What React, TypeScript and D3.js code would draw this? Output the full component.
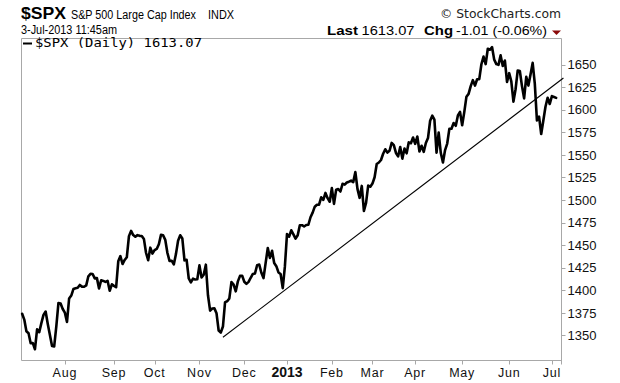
import React from "react";
import * as d3 from "d3";

// Daily closes of $SPX, Jul 3 2012 .. Jul 3 2013, grouped by month
const jul12 = [1374.0, 1367.6, 1354.7, 1352.5, 1341.5, 1341.5, 1334.8, 1356.8, 1353.6, 1363.7, 1372.8, 1376.5, 1362.7, 1350.5, 1338.3, 1337.9, 1360.0, 1386.0, 1385.3, 1379.3];
const aug12 = [1375.3, 1365.0, 1391.0, 1394.2, 1401.4, 1402.2, 1402.8, 1405.9, 1404.1, 1403.9, 1405.5, 1415.5, 1418.2, 1418.1, 1413.2, 1413.5, 1402.1, 1411.1, 1410.4, 1409.3, 1410.5, 1399.5, 1406.6];
const sep12 = [1404.9, 1403.4, 1432.1, 1437.9, 1429.1, 1433.6, 1436.6, 1460.0, 1465.8, 1461.2, 1459.3, 1461.1, 1460.3, 1460.2, 1456.9, 1441.6, 1433.3, 1447.2, 1440.7];
const oct12 = [1444.5, 1445.8, 1451.0, 1461.4, 1460.9, 1455.9, 1441.5, 1432.6, 1432.8, 1428.6, 1440.1, 1454.9, 1460.9, 1457.3, 1433.2, 1433.8, 1413.1, 1408.8, 1413.0, 1411.9, 1412.2];
const nov12 = [1427.6, 1414.2, 1417.3, 1428.4, 1394.5, 1377.5, 1379.9, 1380.0, 1374.5, 1355.5, 1353.3, 1359.9, 1386.9, 1387.8, 1391.0, 1409.2, 1406.3, 1398.9, 1409.9, 1416.0, 1416.2];
const dec12 = [1409.5, 1407.1, 1409.3, 1413.9, 1418.1, 1418.6, 1427.8, 1428.5, 1419.5, 1413.6, 1430.4, 1446.8, 1435.8, 1443.7, 1430.2, 1426.7, 1419.8, 1418.1, 1402.4, 1426.2];
const jan13 = [1462.4, 1459.4, 1466.5, 1461.9, 1457.2, 1461.0, 1472.1, 1472.1, 1470.7, 1472.3, 1472.6, 1480.9, 1486.0, 1492.6, 1494.8, 1494.8, 1503.0, 1500.2, 1507.8, 1502.0, 1498.1];
const feb13 = [1513.2, 1495.7, 1511.3, 1512.1, 1509.4, 1517.9, 1517.0, 1519.4, 1520.3, 1521.4, 1519.8, 1530.9, 1512.0, 1502.4, 1515.6, 1487.9, 1496.9, 1516.0, 1514.7];
const mar13 = [1518.2, 1525.2, 1539.8, 1541.5, 1544.3, 1551.2, 1556.2, 1552.5, 1554.5, 1563.2, 1560.7, 1552.1, 1548.3, 1558.7, 1545.8, 1556.9, 1551.7, 1563.8, 1562.9, 1569.2];
const apr13 = [1562.2, 1570.3, 1553.7, 1560.0, 1553.3, 1563.1, 1568.6, 1587.7, 1593.4, 1588.9, 1552.4, 1574.6, 1552.0, 1541.6, 1555.3, 1562.5, 1578.8, 1578.8, 1585.2, 1582.2, 1593.6, 1597.6];
const may13 = [1582.7, 1597.6, 1614.4, 1617.5, 1626.0, 1632.7, 1626.7, 1633.7, 1633.8, 1650.3, 1658.8, 1650.5, 1667.5, 1666.3, 1669.2, 1655.4, 1650.5, 1649.6, 1660.1, 1648.4, 1654.4, 1630.7];
const jun13 = [1640.4, 1631.4, 1608.9, 1622.6, 1643.4, 1642.8, 1626.1, 1612.5, 1636.4, 1626.7, 1639.0, 1651.8, 1628.9, 1588.2, 1592.4, 1573.1, 1588.0, 1603.3, 1613.2, 1606.3];
const jul13 = [1615.0, 1614.1, 1613.1];

const months = [jul12, aug12, sep12, oct12, nov12, dec12, jan13, feb13, mar13, apr13, may13, jun13, jul13];
// labels for the month starts (Aug 2012 .. Jul 2013)
const monthLabels = ["Aug", "Sep", "Oct", "Nov", "Dec", "2013", "Feb", "Mar", "Apr", "May", "Jun", "Jul"];
const yTicks = [1350, 1375, 1400, 1425, 1450, 1475, 1500, 1525, 1550, 1575, 1600, 1625, 1650];

// trend line: from the Nov 16 2012 low to the right edge (trading-day index, price)
const trendIdx = [94, 253.4];
const trendVal = [1348, 1635];

const W = 620;
const H = 383;
const L = 21.5, R = 561.5, T = 38.5, B = 360.5;

export default function App() {
  const closes = months.flat();
  const starts: number[] = [];
  let acc = 0;
  months.forEach((m, k) => {
    if (k > 0) starts.push(acc);
    acc += m.length;
  });

  const x = d3.scaleLinear().domain([-0.3, 252.5]).range([L, R]);
  const y = d3.scaleLinear().domain([1322.3, 1678.8]).range([B, T]);

  const line = d3
    .line<number>()
    .x((_, i) => x(i))
    .y((d) => y(d))
    .curve(d3.curveLinear);

  const trend = d3
    .line<number>()
    .x((d) => x(d))
    .y((_, i) => y(trendVal[i]));

  const font = "'Liberation Sans', Arial, sans-serif";
  const axisColor = "#a8a8a8";

  return (
    <svg
      width={W}
      height={H}
      style={{ position: "absolute", left: 0, top: 0, background: "#fff" }}
      fontFamily={font}
    >
      <rect x={0} y={0} width={W} height={H} fill="#fff" />
      {/* header */}
      <text x={21} y={19} fontSize={17} fontWeight="bold" fill="#000" textLength={45} lengthAdjust="spacingAndGlyphs">$SPX</text>
      <text x={71} y={18.5} fontSize={12} fill="#000" textLength={125} lengthAdjust="spacingAndGlyphs">S&amp;P 500 Large Cap Index</text>
      <text x={208} y={18.5} fontSize={12} fill="#000" textLength={26} lengthAdjust="spacingAndGlyphs">INDX</text>
      <text x={440} y={18.3} fontSize={12.5} fill="#222" fontFamily="'DejaVu Sans', sans-serif" textLength={121} lengthAdjust="spacingAndGlyphs">© StockCharts.com</text>
      <text x={21} y={33.5} fontSize={12} fill="#000" textLength={96} lengthAdjust="spacingAndGlyphs">3-Jul-2013 11:45am</text>
      <text x={327} y={35} fontSize={13} fontWeight="bold" fill="#000" textLength={31} lengthAdjust="spacingAndGlyphs">Last</text>
      <text x={361.5} y={35} fontSize={12} fill="#000" textLength={53} lengthAdjust="spacingAndGlyphs">1613.07</text>
      <text x={424} y={35} fontSize={13} fontWeight="bold" fill="#000" textLength={29} lengthAdjust="spacingAndGlyphs">Chg</text>
      <text x={456} y={35} fontSize={12} fill="#000" textLength={91} lengthAdjust="spacingAndGlyphs">-1.01 (-0.06%)</text>
      <path d="M552,30.5 L561,30.5 L556.5,35 Z" fill="#8b0a0a" />

      {/* plot frame */}
      <line x1={L} y1={T} x2={R} y2={T} stroke={axisColor} />
      <line x1={L} y1={T} x2={L} y2={B} stroke={axisColor} />
      <line x1={R} y1={T} x2={R} y2={B + 4} stroke={axisColor} />
      <line x1={L} y1={B} x2={R} y2={B} stroke={axisColor} />

      {/* legend */}
      <line x1={23} y1={43.5} x2={32} y2={43.5} stroke="#000" strokeWidth={2} />
      <text x={35} y={47} fontSize={12} fill="#000" fontFamily="'DejaVu Sans Mono', monospace" textLength={167} lengthAdjust="spacingAndGlyphs">$SPX (Daily) 1613.07</text>

      {/* y axis */}
      {yTicks.map((t) => (
        <g key={t}>
          <line x1={R} x2={R + 4} y1={Math.round(y(t)) + 0.5} y2={Math.round(y(t)) + 0.5} stroke={axisColor} />
          <text x={567.5} y={y(t)} dy="0.36em" fontSize={13} fill="#111">
            {t}
          </text>
        </g>
      ))}

      {/* x axis */}
      {starts.map((s, k) => (
        <g key={k}>
          <line x1={Math.round(x(s)) + 0.5} x2={Math.round(x(s)) + 0.5} y1={B} y2={B + 4} stroke={axisColor} />
          <text
            x={x(s)}
            y={376.5}
            fontSize={monthLabels[k] === "2013" ? 14 : 12.5}
            fontWeight={monthLabels[k] === "2013" ? "bold" : "normal"}
            textAnchor="middle"
            letterSpacing={monthLabels[k] === "2013" ? 0 : 0.8}
            fill="#111"
          >
            {monthLabels[k]}
          </text>
        </g>
      ))}

      {/* trend line */}
      <path d={trend(trendIdx) || ""} fill="none" stroke="#000" strokeWidth={1.1} />

      {/* price line */}
      <path d={line(closes) || ""} fill="none" stroke="#000" strokeWidth={2.6} strokeLinejoin="round" strokeLinecap="round" />
    </svg>
  );
}
